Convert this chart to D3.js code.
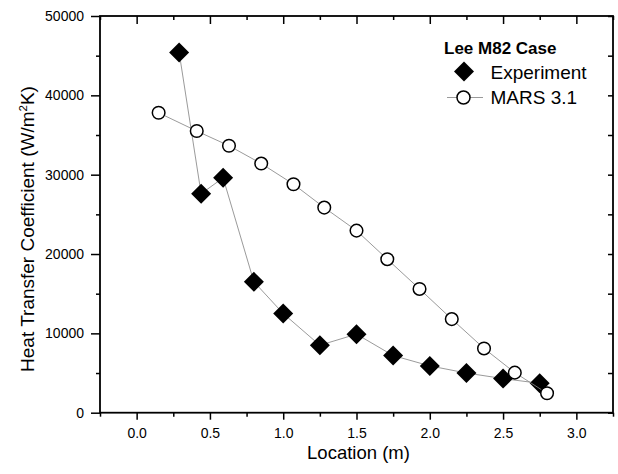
<!DOCTYPE html>
<html>
<head>
<meta charset="utf-8">
<script src="https://cdn.jsdelivr.net/npm/d3@7"></script>
<style>
  body { margin: 0; background: #fff; }
  svg text { font-family: "Liberation Sans", Arial, sans-serif; fill: #000; }
</style>
</head>
<body>
<div id="chart"></div>
<script>
const expX = [0.29, 0.44, 0.59, 0.80, 1.00, 1.25, 1.50, 1.75, 2.00, 2.25, 2.50, 2.75];
const expY = [45400, 27600, 29600, 16500, 12500, 8500, 9900, 7200, 5900, 5000, 4300, 3700];
const marsX = [0.15, 0.41, 0.63, 0.85, 1.07, 1.28, 1.50, 1.71, 1.93, 2.15, 2.37, 2.58, 2.80];
const marsY = [37800, 35500, 33650, 31400, 28800, 25850, 22950, 19350, 15600, 11800, 8100, 5050, 2450];
const xTicks = [0.0, 0.5, 1.0, 1.5, 2.0, 2.5, 3.0];
const xMinor = [-0.25, 0.25, 0.75, 1.25, 1.75, 2.25, 2.75, 3.25];
const yTicks = [0, 10000, 20000, 30000, 40000, 50000];
const yMinor = [5000, 15000, 25000, 35000, 45000];
const seriesNames = ["Experiment", "MARS 3.1"];
const legendTitle = "Lee M82 Case";

const W = 618, H = 474;
const L = 100, R = 613, T = 16, B = 412.7;

const svg = d3.select("#chart").append("svg")
  .attr("width", W).attr("height", H);

const x = d3.scaleLinear().domain([-0.25, 3.25]).range([L, R]);
const y = d3.scaleLinear().domain([0, 50000]).range([B, T]);

const exp = expX.map((v, i) => ({ x: v, y: expY[i] }));
const mars = marsX.map((v, i) => ({ x: v, y: marsY[i] }));

function styleAxis(g) {
  g.select(".domain").remove();
  g.selectAll("line").attr("stroke", "#000").attr("stroke-width", 1.5);
}

// left axis
svg.append("g").attr("transform", `translate(${L},0)`)
  .call(d3.axisLeft(y).tickValues(yTicks).tickSize(9).tickPadding(7).tickFormat(d3.format("d")))
  .call(styleAxis)
  .selectAll("text").style("font-size", "14px").attr("font-family", null);
svg.append("g").attr("transform", `translate(${L},0)`)
  .call(d3.axisLeft(y).tickValues(yMinor).tickSize(4).tickFormat(""))
  .call(styleAxis);

// bottom axis
svg.append("g").attr("transform", `translate(0,${B})`)
  .call(d3.axisBottom(x).tickValues(xTicks).tickSize(7).tickPadding(8.5).tickFormat(d3.format(".1f")))
  .call(styleAxis)
  .selectAll("text").style("font-size", "14px").attr("font-family", null);
svg.append("g").attr("transform", `translate(0,${B})`)
  .call(d3.axisBottom(x).tickValues(xMinor).tickSize(4).tickFormat(""))
  .call(styleAxis);

// top axis (ticks inward)
svg.append("g").attr("transform", `translate(0,${T})`)
  .call(d3.axisBottom(x).tickValues(xTicks).tickSize(8).tickFormat(""))
  .call(styleAxis);
svg.append("g").attr("transform", `translate(0,${T})`)
  .call(d3.axisBottom(x).tickValues(xMinor).tickSize(4).tickFormat(""))
  .call(styleAxis);

// right axis (ticks inward)
svg.append("g").attr("transform", `translate(${R},0)`)
  .call(d3.axisLeft(y).tickValues(yTicks.concat(yMinor)).tickSize(5).tickFormat(""))
  .call(styleAxis);

// frame
svg.append("rect")
  .attr("x", L).attr("y", T).attr("width", R - L).attr("height", B - T)
  .attr("fill", "none").attr("stroke", "#000").attr("stroke-width", 1.8);

const line = d3.line().x(d => x(d.x)).y(d => y(d.y));
const diamond = d3.symbol(d3.symbolSquare, 200);

// experiment
svg.append("path").datum(exp)
  .attr("d", line).attr("fill", "none").attr("stroke", "#888").attr("stroke-width", 0.85);
svg.append("g").selectAll("path")
  .data(exp).enter().append("path")
  .attr("d", diamond)
  .attr("transform", d => `translate(${x(d.x)},${y(d.y)}) rotate(45)`)
  .attr("fill", "#000");

// MARS
svg.append("path").datum(mars)
  .attr("d", line).attr("fill", "none").attr("stroke", "#888").attr("stroke-width", 0.85);
svg.append("g").selectAll("circle")
  .data(mars).enter().append("circle")
  .attr("cx", d => x(d.x)).attr("cy", d => y(d.y)).attr("r", 6.3)
  .attr("fill", "#fff").attr("stroke", "#000").attr("stroke-width", 1.5);

// axis titles
svg.append("text")
  .attr("x", 358.5).attr("y", 459)
  .attr("text-anchor", "middle").style("font-size", "18.5px")
  .text("Location (m)");

const yt = svg.append("text")
  .attr("transform", "translate(33.5,229) rotate(-90)")
  .attr("text-anchor", "middle").style("font-size", "19px");
yt.append("tspan").text("Heat Transfer Coefficient (W/m");
yt.append("tspan").attr("dy", -7).style("font-size", "11.5px").text("2");
yt.append("tspan").attr("dy", 7).text("K)");

// legend
svg.append("text").attr("x", 444).attr("y", 54)
  .style("font-size", "17px").style("font-weight", "bold").text(legendTitle);
svg.append("path").attr("d", diamond)
  .attr("transform", "translate(464,71.5) rotate(45)").attr("fill", "#000");
svg.append("text").attr("x", 490.5).attr("y", 79)
  .style("font-size", "19px").text(seriesNames[0]);
svg.append("line").attr("x1", 447).attr("x2", 483).attr("y1", 97.5).attr("y2", 97.5)
  .attr("stroke", "#888").attr("stroke-width", 0.85);
svg.append("circle").attr("cx", 463.5).attr("cy", 97.5).attr("r", 6.5)
  .attr("fill", "#fff").attr("stroke", "#000").attr("stroke-width", 1.5);
svg.append("text").attr("x", 490.5).attr("y", 103.5)
  .style("font-size", "19px").text(seriesNames[1]);
</script>
</body>
</html>
